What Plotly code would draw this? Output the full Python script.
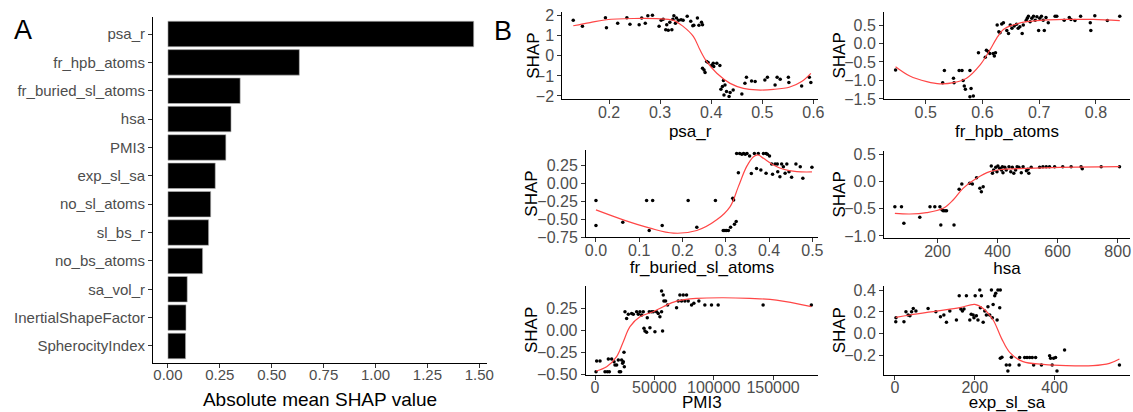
import plotly.graph_objects as go

W, H = 1133, 412
FONT = "Liberation Sans, Arial, sans-serif"
TICKC = "#4D4D4D"

# ---------------- Panel A data ----------------
features = ["psa_r", "fr_hpb_atoms", "fr_buried_sl_atoms", "hsa", "PMI3", "exp_sl_sa",
            "no_sl_atoms", "sl_bs_r", "no_bs_atoms", "sa_vol_r", "InertialShapeFactor",
            "SpherocityIndex"]
mean_abs_shap = [1.473, 0.633, 0.348, 0.304, 0.279, 0.228, 0.206, 0.196, 0.167, 0.093, 0.087, 0.085]
a_ticks = [0, 0.25, 0.5, 0.75, 1.0, 1.25, 1.5]

# ---------------- Panel B data ----------------
psa_r_x = [0.130, 0.148, 0.193, 0.195, 0.217, 0.235, 0.241, 0.259, 0.264, 0.271, 0.276, 0.285,
           0.298, 0.302, 0.306, 0.311, 0.313, 0.316, 0.319, 0.323, 0.325, 0.327, 0.330, 0.332,
           0.336, 0.341, 0.345, 0.353, 0.360, 0.364, 0.366, 0.373, 0.376, 0.381, 0.383, 0.383,
           0.386, 0.388, 0.391, 0.394, 0.401, 0.404, 0.405, 0.411, 0.417, 0.419, 0.422, 0.424,
           0.425, 0.427, 0.430, 0.435, 0.437, 0.443, 0.460, 0.466, 0.469, 0.479, 0.486, 0.505,
           0.510, 0.525, 0.529, 0.535, 0.551, 0.552, 0.577, 0.592, 0.595]
psa_r_shap = [1.77, 1.47, 1.90, 1.40, 1.63, 1.90, 1.57, 1.55, 1.88, 1.63, 2.00, 2.02,
              1.47, 1.77, 1.83, 1.30, 1.55, 1.27, 1.67, 1.30, 1.83, 2.00, 1.63, 1.88,
              1.77, 1.80, 1.77, 1.97, 1.72, 1.50, 1.53, 1.88, 1.52, 1.67, 1.55, -0.62,
              -0.70, -0.83, -0.28, -0.33, -0.47, -0.37, -0.53, -0.37, -0.48, -1.67, -1.53, -1.23,
              -1.95, -1.45, -1.78, -2.03, -1.83, -1.70, -1.90, -1.37, -1.07, -1.25, -1.28, -1.20,
              -1.07, -1.45, -1.07, -1.17, -1.07, -1.33, -1.50, -1.07, -1.33]
psa_r_fit_x = [0.130, 0.163, 0.195, 0.248, 0.293, 0.326, 0.345, 0.365, 0.378, 0.391, 0.411,
               0.437, 0.463, 0.489, 0.522, 0.554, 0.577, 0.595]
psa_r_fit_y = [1.50, 1.66, 1.80, 1.86, 1.85, 1.77, 1.47, 0.97, 0.30, -0.28, -0.87,
               -1.37, -1.62, -1.70, -1.67, -1.55, -1.28, -0.87]

hpb_x = [0.447, 0.530, 0.533, 0.549, 0.550, 0.559, 0.564, 0.566, 0.568, 0.570, 0.578, 0.580,
         0.578, 0.584, 0.593, 0.605, 0.607, 0.610, 0.613, 0.619, 0.621, 0.623, 0.626, 0.629,
         0.631, 0.634, 0.637, 0.643, 0.646, 0.649, 0.652, 0.656, 0.660, 0.663, 0.666, 0.670,
         0.672, 0.677, 0.679, 0.681, 0.684, 0.687, 0.690, 0.693, 0.696, 0.699, 0.701, 0.704,
         0.707, 0.709, 0.712, 0.716, 0.728, 0.731, 0.744, 0.753, 0.756, 0.763, 0.773, 0.790,
         0.791, 0.798, 0.820, 0.842]
hpb_shap = [-0.72, -1.06, -0.73, -0.94, -1.06, -0.73, -0.73, -1.00, -1.15, -1.24, -0.73, -1.22,
            -1.44, -1.42, -0.25, -0.37, -0.18, -0.22, -0.27, -0.27, -0.34, -0.25, 0.50, 0.32,
            0.29, 0.53, 0.56, 0.35, 0.27, 0.50, 0.41, 0.47, 0.52, 0.41, 0.45, 0.27,
            0.50, 0.62, 0.68, 0.74, 0.59, 0.68, 0.74, 0.63, 0.72, 0.35, 0.68, 0.74,
            0.63, 0.35, 0.70, 0.56, 0.74, 0.74, 0.63, 0.70, 0.65, 0.62, 0.74, 0.56,
            0.35, 0.75, 0.62, 0.74]
hpb_fit_x = [0.447, 0.472, 0.502, 0.525, 0.549, 0.572, 0.596, 0.613, 0.625, 0.637, 0.654,
             0.678, 0.707, 0.743, 0.795, 0.842]
hpb_fit_y = [-0.63, -0.88, -1.03, -1.09, -1.06, -0.94, -0.58, -0.18, 0.14, 0.38, 0.50,
             0.59, 0.63, 0.65, 0.65, 0.62]

buried_x = [0.000, 0.000, 0.062, 0.117, 0.131, 0.123, 0.153, 0.213, 0.233, 0.276, 0.294, 0.298,
            0.302, 0.306, 0.311, 0.316, 0.318, 0.320, 0.324, 0.325, 0.329, 0.332, 0.337, 0.341,
            0.345, 0.349, 0.355, 0.359, 0.366, 0.371, 0.375, 0.381, 0.387, 0.393, 0.396, 0.401,
            0.393, 0.406, 0.408, 0.414, 0.419, 0.420, 0.425, 0.429, 0.433, 0.437, 0.441, 0.446,
            0.452, 0.462, 0.472, 0.478, 0.499]
buried_shap = [-0.238, -0.587, -0.540, -0.238, -0.238, -0.657, -0.587, -0.238, -0.610, -0.238, -0.657, -0.657,
               -0.657, -0.657, -0.610, -0.205, -0.230, -0.569, -0.530, 0.420, 0.152, 0.420, 0.410, 0.420,
               0.410, 0.420, 0.385, 0.140, 0.420, 0.210, 0.420, 0.190, 0.420, 0.420, 0.410, 0.385,
               0.143, 0.273, 0.129, 0.273, 0.273, 0.166, 0.096, 0.273, 0.236, 0.143, 0.273, 0.166,
               0.087, 0.273, 0.236, 0.073, 0.227]
buried_fit_x = [0.000, 0.063, 0.125, 0.179, 0.233, 0.279, 0.310, 0.329, 0.348, 0.364, 0.375,
                0.387, 0.410, 0.433, 0.464, 0.499]
buried_fit_y = [-0.369, -0.508, -0.624, -0.694, -0.657, -0.508, -0.322, -0.043, 0.236, 0.376, 0.399,
                0.352, 0.259, 0.199, 0.166, 0.162]

hsa_x = [58, 80, 88, 141, 175, 191, 208, 211, 215, 219, 225, 230, 255, 272, 281, 307, 316, 330,
         341, 346, 352, 379, 383, 387, 394, 398, 401, 407, 413, 416, 418, 424, 429, 438, 444, 449,
         454, 460, 465, 471, 479, 485, 496, 501, 504, 512, 540, 551, 562, 573, 590, 617, 645, 678,
         682, 745, 806]
hsa_shap = [-0.461, -0.461, -0.768, -0.657, -0.461, -0.461, -0.461, -0.798, -0.520, -0.535, -0.535, -0.535,
            -0.798, -0.143, -0.045, -0.033, -0.045, 0.071, -0.125, -0.186, -0.094, 0.286, 0.151, 0.212,
            0.261, 0.181, 0.286, 0.243, 0.212, 0.273, 0.163, 0.261, 0.212, 0.273, 0.181, 0.261, 0.151,
            0.212, 0.273, 0.261, 0.163, 0.273, 0.200, 0.224, 0.151, 0.261, 0.261, 0.273, 0.273, 0.273,
            0.273, 0.273, 0.273, 0.273, 0.237, 0.273, 0.273]
hsa_fit_x = [58, 108, 163, 219, 252, 285, 330, 374, 418, 496, 606, 806]
hsa_fit_y = [-0.584, -0.596, -0.572, -0.492, -0.339, -0.125, 0.059, 0.182, 0.224, 0.243, 0.261, 0.273]

pmi3_x = [841, 1402, 4206, 8412, 10375, 12057, 11216, 14020, 16000, 16824, 18226, 19628, 20469,
          21590, 22432, 23273, 23834, 24675, 24395, 25236, 26638, 28040, 30844, 32246, 35050,
          36452, 37854, 39256, 40658, 41219, 42060, 43462, 44023, 45705, 46266, 47668, 49070,
          50472, 51874, 53276, 54678, 56080, 56921, 56080, 57482, 58043, 59445, 61127, 68697,
          70099, 71501, 72903, 74305, 75707, 77110, 78512, 81316, 83279, 87484, 92532, 98140,
          103748, 141602, 182260]
pmi3_shap = [-0.470, -0.348, -0.348, -0.470, -0.470, -0.470, -0.326, -0.326, -0.356, -0.394, -0.394, -0.337, -0.470,
             -0.470, -0.337, -0.375, -0.356, -0.413, -0.250, 0.212, 0.136, 0.182, 0.193, 0.182, 0.212,
             0.182, 0.212, 0.174, 0.212, 0.023, -0.008, -0.023, 0.144, 0.212, 0.030, 0.212, 0.212,
             -0.015, 0.212, 0.193, 0.155, 0.212, -0.008, 0.447, 0.402, 0.333, 0.333, 0.288, 0.258,
             0.333, 0.402, 0.333, 0.402, 0.333, 0.402, 0.333, 0.288, 0.307, 0.333, 0.288, 0.288,
             0.288, 0.288, 0.288]
pmi3_fit_x = [841, 9814, 18226, 23834, 29442, 37854, 49070, 57482, 68697, 85522, 107954,
              130386, 152818, 182260]
pmi3_fit_y = [-0.462, -0.413, -0.299, -0.129, 0.042, 0.155, 0.212, 0.269, 0.333, 0.364, 0.371,
              0.364, 0.345, 0.269]

exp_x = [2, 2.5, 22.5, 27.5, 33, 37.5, 41.7, 45.8, 52.5, 83, 102.5, 114, 122.5, 129, 137.5, 154,
         161, 165, 169, 173, 179, 187.5, 191, 196, 198, 201, 204, 208, 212.5, 214, 216.7, 221, 225,
         229, 233, 237.5, 241.7, 244, 246, 250, 252.5, 256, 258, 262.5, 264, 264, 268, 279, 283,
         287.5, 291.7, 311, 312.5, 325, 331, 337.5, 344, 347.5, 352.5, 367, 387.5, 390, 394, 397.5,
         402.5, 406, 425, 562.5]
exp_shap = [0.111, 0.147, 0.111, 0.202, 0.172, 0.165, 0.202, 0.232, 0.208, 0.232, 0.202, 0.156, 0.172,
            0.105, 0.208, 0.126, 0.348, 0.226, 0.208, 0.226, 0.348, 0.126, 0.178, 0.172, 0.147, 0.348,
            0.165, 0.126, 0.400, 0.238, 0.348, 0.105, 0.208, 0.172, 0.248, 0.172, 0.400, 0.147, 0.269,
            0.348, 0.370, 0.126, 0.400, 0.238, 0.400, -0.224, -0.215, -0.285, -0.340, -0.285, -0.215,
            -0.285, -0.218, -0.218, -0.218, -0.218, -0.218, -0.285, -0.218, -0.285, -0.200, -0.224,
            -0.285, -0.224, -0.218, -0.340, -0.148, -0.285]
exp_fit_x = [2, 37.5, 104, 162.5, 200, 221, 246, 267, 287.5, 321, 371, 429, 496, 537.5, 562.5]
exp_fit_y = [0.150, 0.172, 0.208, 0.239, 0.269, 0.232, 0.126, -0.042, -0.170, -0.255, -0.279,
             -0.291, -0.291, -0.270, -0.230]

panels = [
    dict(name="psa_r", x=psa_r_x, y=psa_r_shap, fx=psa_r_fit_x, fy=psa_r_fit_y,
         xr=[0.1086, 0.609], yr=[-2.165, 2.2], xt=[0.2, 0.3, 0.4, 0.5, 0.6], xf=".1f",
         yt=[-2, -1, 0, 1, 2], yf="d", px=(562.3, 818), py=(11.7, 99.3), ts=5, yts=-29),
    dict(name="fr_hpb_atoms", x=hpb_x, y=hpb_shap, fx=hpb_fit_x, fy=hpb_fit_y,
         xr=[0.4266, 0.86], yr=[-1.51, 0.86], xt=[0.5, 0.6, 0.7, 0.8], xf=".1f",
         yt=[-1.5, -1.0, -0.5, 0.0, 0.5], yf=".1f", px=(884, 1130), py=(11.7, 99.3), ts=5, yts=-45),
    dict(name="fr_buried_sl_atoms", x=buried_x, y=buried_shap, fx=buried_fit_x, fy=buried_fit_y,
         xr=[-0.023, 0.513], yr=[-0.752, 0.469], xt=[0.0, 0.1, 0.2, 0.3, 0.4, 0.5], xf=".1f",
         yt=[-0.75, -0.5, -0.25, 0.0, 0.25], yf=".2f", px=(586, 818), py=(150, 237.3), ts=3, yts=-54),
    dict(name="hsa", x=hsa_x, y=hsa_shap, fx=hsa_fit_x, fy=hsa_fit_y,
         xr=[21.8, 841], yr=[-1.043, 0.567], xt=[200, 400, 600, 800], xf="d",
         yt=[-1.0, -0.5, 0.0, 0.5], yf=".1f", px=(884, 1130), py=(150.7, 238.3), ts=3, yts=-45),
    dict(name="PMI3", x=pmi3_x, y=pmi3_shap, fx=pmi3_fit_x, fy=pmi3_fit_y,
         xr=[-7850, 187850], yr=[-0.508, 0.508], xt=[0, 50000, 100000, 150000], xf="d",
         yt=[-0.5, -0.25, 0.0, 0.25], yf=".2f", px=(585.7, 818), py=(285.7, 375), ts=6, yts=-54),
    dict(name="exp_sl_sa", x=exp_x, y=exp_shap, fx=exp_fit_x, fy=exp_fit_y,
         xr=[-27.5, 589], yr=[-0.377, 0.44], xt=[0, 200, 400], xf="d",
         yt=[-0.2, 0.0, 0.2, 0.4], yf=".1f", px=(884, 1130), py=(285.7, 375), ts=6, yts=-45),
]

fig = go.Figure()

axis_common = dict(showline=True, linecolor="black", linewidth=1, ticks="outside", ticklen=4,
                   tickcolor="#333333", tickwidth=1, showgrid=False, zeroline=False,
                   automargin=False, tickangle=0)

# Panel A
fig.add_trace(go.Bar(x=mean_abs_shap, y=features, orientation="h",
                     marker=dict(color="black", line=dict(color="#BBBBBB", width=0.6)),
                     xaxis="x", yaxis="y", showlegend=False))
layout = dict(
    template="none",
    width=W, height=H, margin=dict(l=0, r=0, t=0, b=0, pad=0), plot_bgcolor="white",
    paper_bgcolor="white", bargap=0.1, showlegend=False,
    font=dict(family=FONT),
)
layout["xaxis"] = dict(axis_common, domain=[153 / W, 487 / W], range=[-0.072, 1.537],
                       tickvals=a_ticks, tickformat=".2f", anchor="y", ticklabelstandoff=-6,
                       tickfont=dict(family=FONT, color=TICKC, size=15),
                       title=dict(text="Absolute mean SHAP value",
                                  font=dict(family=FONT, size=19, color="black"), standoff=10))
layout["yaxis"] = dict(axis_common, domain=[1 - 363 / H, 1 - 17 / H], range=[11.6, -0.6],
                       type="category", categoryorder="array", categoryarray=features,
                       anchor="x", tickfont=dict(family=FONT, color=TICKC, size=15))

annotations = [
    dict(text="A", x=23 / W, y=1 - 30 / H, xref="paper", yref="paper", showarrow=False,
         font=dict(family=FONT, size=27, color="black"), xanchor="center", yanchor="middle"),
    dict(text="B", x=503 / W, y=1 - 31 / H, xref="paper", yref="paper", showarrow=False,
         font=dict(family=FONT, size=27, color="black"), xanchor="center", yanchor="middle"),
]

for i, p in enumerate(panels):
    n = i + 2
    xa, ya = f"x{n}", f"y{n}"
    fig.add_trace(go.Scatter(x=p["x"], y=p["y"], mode="markers",
                             marker=dict(color="black", size=3.5),
                             xaxis=xa, yaxis=ya, showlegend=False))
    fig.add_trace(go.Scatter(x=p["fx"], y=p["fy"], mode="lines",
                             line=dict(color="rgb(255,70,70)", width=1.2, shape="spline", smoothing=1.0),
                             xaxis=xa, yaxis=ya, showlegend=False))
    layout[f"xaxis{n}"] = dict(axis_common, domain=[p["px"][0] / W, p["px"][1] / W],
                               range=p["xr"], tickvals=p["xt"], tickformat=p["xf"], anchor=ya,
                               ticklabelstandoff=-6,
                               tickfont=dict(family=FONT, color=TICKC, size=16),
                               title=dict(text=p["name"], font=dict(family=FONT, size=17, color="black"),
                                          standoff=p["ts"]))
    layout[f"yaxis{n}"] = dict(axis_common, domain=[1 - p["py"][1] / H, 1 - p["py"][0] / H],
                               range=p["yr"], tickvals=p["yt"], tickformat=p["yf"], anchor=xa,
                               tickfont=dict(family=FONT, color=TICKC, size=16))
    # y-axis title "SHAP", placed like the reference
    annotations.append(dict(text="SHAP", textangle=-90, xref=f"{xa} domain", yref=f"{ya} domain",
                            x=0, y=0.5, xshift=p["yts"], showarrow=False, xanchor="center",
                            yanchor="middle", font=dict(family=FONT, size=17, color="black")))

layout["annotations"] = annotations
fig.update_layout(**layout)
fig.write_html(
    "out.html",
    config={"displayModeBar": False},
    post_script="document.body.style.margin='0px'; document.body.style.overflow='hidden';",
)
